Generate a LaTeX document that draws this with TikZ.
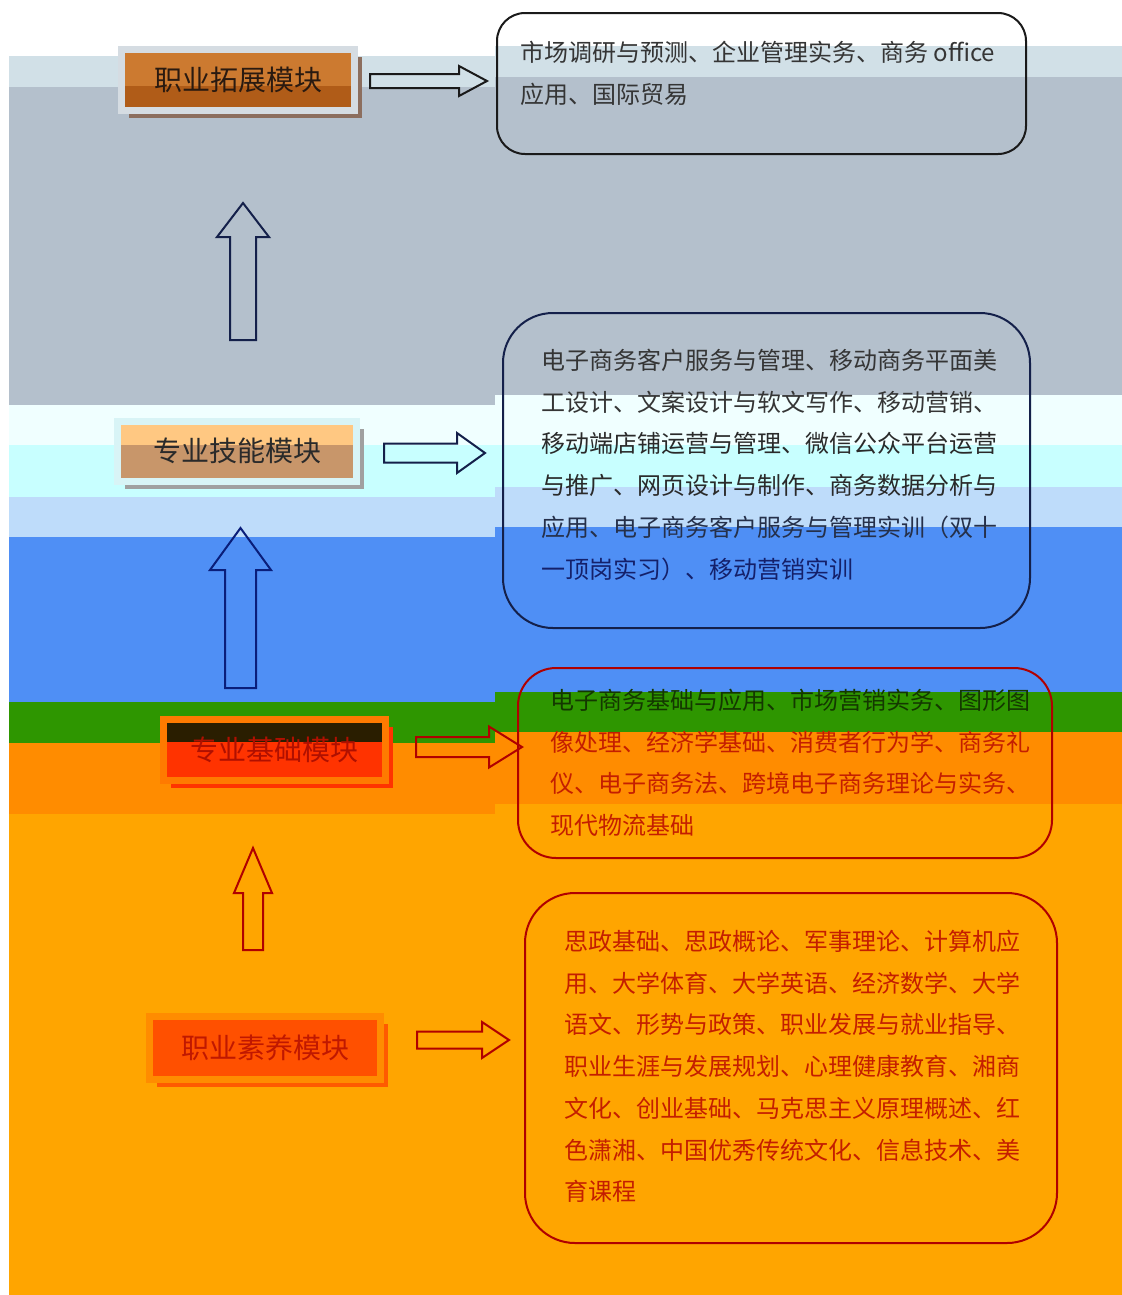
\documentclass[tikz,border=0pt]{standalone}
\usepackage{fontspec}
\newfontfamily\cjk{Noto Sans CJK SC}
\usetikzlibrary{shadows}
\definecolor{bLight}{HTML}{D1E0E7}
\definecolor{bGrey}{HTML}{B4C0CC}
\definecolor{bAzure}{HTML}{F0FFFF}
\definecolor{bCyan}{HTML}{C8FFFF}
\definecolor{bLBlue}{HTML}{BEDCFA}
\definecolor{bBlue}{HTML}{4F8FF5}
\definecolor{bGreen}{HTML}{2E9600}
\definecolor{bDOrange}{HTML}{FF8C00}
\definecolor{bOrange}{HTML}{FFA500}
\definecolor{rimA}{HTML}{D5DCE2}
\definecolor{fillAa}{HTML}{CC7A30}
\definecolor{fillAb}{HTML}{B05C18}
\definecolor{shadA}{HTML}{8C6E5E}
\definecolor{txtA}{HTML}{2A1A10}
\definecolor{rimB}{HTML}{D8F4F6}
\definecolor{fillBa}{HTML}{FFC882}
\definecolor{fillBb}{HTML}{C8966A}
\definecolor{shadB}{HTML}{A0A0A0}
\definecolor{txtB}{HTML}{2A2A2A}
\definecolor{rimC}{HTML}{FF7A00}
\definecolor{fillCa}{HTML}{2A1E00}
\definecolor{fillCb}{HTML}{FF3300}
\definecolor{shadC}{HTML}{FF3300}
\definecolor{txtC}{HTML}{B01000}
\definecolor{rimD}{HTML}{FF8C00}
\definecolor{fillD}{HTML}{FF5000}
\definecolor{shadD}{HTML}{FF5A00}
\definecolor{txtD}{HTML}{C01800}
\definecolor{inkGrey}{HTML}{353535}
\definecolor{inkDark}{HTML}{2A2A2A}
\definecolor{inkSlate}{HTML}{25304A}
\definecolor{inkNavy}{HTML}{14206A}
\definecolor{inkGreen}{HTML}{143800}
\definecolor{inkRed}{HTML}{C41E00}
\definecolor{lineBlack}{HTML}{1A1A1A}
\definecolor{lineNavy}{HTML}{14204A}
\definecolor{lineBlue}{HTML}{0A1E7A}
\definecolor{lineRed}{HTML}{B00000}
\newcommand\myUpArrow[7]{%
  \draw[blockarrow,draw=#1] ({#2},{#3}) -- ({#2+#6},{#3+#7}) -- ({#2+#5},{#3+#7})
    -- ({#2+#5},{#4}) -- ({#2-#5},{#4}) -- ({#2-#5},{#3+#7}) -- ({#2-#6},{#3+#7}) -- cycle;}
\newcommand\myRightArrow[7]{%
  \draw[blockarrow,draw=#1] ({#2},{#4-#5}) -- ({#3-#7},{#4-#5}) -- ({#3-#7},{#4-#6})
    -- ({#3},{#4}) -- ({#3-#7},{#4+#6}) -- ({#3-#7},{#4+#5}) -- ({#2},{#4+#5}) -- cycle;}
\begin{document}
\begin{tikzpicture}[x=1bp,y=-1bp,
  modbox/.style={rectangle, line width=7bp, outer sep=0pt, inner sep=0pt,
    font=\cjk\fontsize{28bp}{34bp}\selectfont},
  lowerfill/.style 2 args={path picture={\fill[#1]
    ([yshift=#2]path picture bounding box.south west) rectangle
    ([yshift=-10bp]path picture bounding box.south east);}},
  rbox/.style={rectangle, line width=2bp, outer sep=0pt, inner sep=0pt},
  rtext/.style={anchor=north west, align=left, inner sep=0pt,
    font=\cjk\fontsize{24bp}{41.7bp}\selectfont},
  blockarrow/.style={line width=2bp, line join=miter}]
\useasboundingbox (0,0) rectangle (1122,1295);
\fill[white] (0,0) rectangle (1122,1295);
% background bands (left part and right part, offset)
\foreach \c/\a/\b in {bLight/56/87,bGrey/87/405,bAzure/405/445,bCyan/445/497,bLBlue/497/537,bBlue/537/702,bGreen/702/743,bDOrange/743/814,bOrange/814/1295}
  \fill[fill=\c] (9,\a) rectangle (495,\b);
\foreach \c/\a/\b in {bLight/46/77,bGrey/77/395,bAzure/395/445,bCyan/445/487,bLBlue/487/527,bBlue/527/692,bGreen/692/732,bDOrange/732/804,bOrange/804/1295}
  \fill[fill=\c] (495,\a) rectangle (1122,\b);

% left module boxes
\node[modbox, draw=rimA, fill=fillAa, text=txtA, minimum width=232bp, minimum height=61bp,
  drop shadow={shadow xshift=7.5bp, shadow yshift=-7.5bp, fill=shadA, opacity=1},
  lowerfill={fillAb}{24.5bp}] (m1) at (238,80) {职业拓展模块};
\node[modbox, draw=rimB, fill=fillBa, text=txtB, minimum width=239bp, minimum height=60bp,
  drop shadow={shadow xshift=7.5bp, shadow yshift=-7.5bp, fill=shadB, opacity=1},
  lowerfill={fillBb}{36bp}] (m2) at (237,451) {专业技能模块};
\node[modbox, draw=rimC, fill=fillCa, text=txtC, minimum width=222bp, minimum height=61bp,
  drop shadow={shadow xshift=7.5bp, shadow yshift=-7.5bp, fill=shadC, opacity=1},
  lowerfill={fillCb}{38.5bp}] (m3) at (274,750) {专业基础模块};
\node[modbox, draw=rimD, fill=fillD, text=txtD, minimum width=231bp, minimum height=63bp,
  drop shadow={shadow xshift=7.5bp, shadow yshift=-7.5bp, fill=shadD, opacity=1}] (m4) at (265,1048) {职业素养模块};

% right content boxes
\node[rbox, draw=lineBlack, rounded corners=28bp, minimum width=529bp, minimum height=141bp] (c1) at (761.5,83.5) {};
\node[rbox, draw=lineNavy, rounded corners=50bp, minimum width=527bp, minimum height=315bp] (c2) at (766.5,470.5) {};
\node[rbox, draw=lineRed, rounded corners=38bp, minimum width=534bp, minimum height=190bp] (c3) at (785,763) {};
\node[rbox, draw=lineRed, rounded corners=50bp, minimum width=532bp, minimum height=350bp] (c4) at (791,1068) {};

\node[rtext, text=inkGrey] (t1) at (520,41) {市场调研与预测、企业管理实务、商务 office\\应用、国际贸易};
\node[rtext] (t2) at (541,349) {%
\textcolor{inkGrey}{电子商务客户服务与管理、移动商务平面美}\\
\textcolor{inkGrey}{工设计、文案设计与软文写作、移动营销、}\\
\textcolor{inkDark}{移动端店铺运营与管理、微信公众平台运营}\\
\textcolor{inkDark}{与推广、网页设计与制作、商务数据分析与}\\
\textcolor{inkSlate}{应用、电子商务客户服务与管理实训（双十}\\
\textcolor{inkNavy}{一顶岗实习）、移动营销实训}};
\node[rtext] (t3) at (550,689) {%
\textcolor{inkGreen}{电子商务基础与应用、市场营销实务、图形图}\\
\textcolor{inkRed}{像处理、经济学基础、消费者行为学、商务礼}\\
\textcolor{inkRed}{仪、电子商务法、跨境电子商务理论与实务、}\\
\textcolor{inkRed}{现代物流基础}};
\node[rtext, text=inkRed] (t4) at (564,930) {%
思政基础、思政概论、军事理论、计算机应\\
用、大学体育、大学英语、经济数学、大学\\
语文、形势与政策、职业发展与就业指导、\\
职业生涯与发展规划、心理健康教育、湘商\\
文化、创业基础、马克思主义原理概述、红\\
色潇湘、中国优秀传统文化、信息技术、美\\
育课程};

% block arrows: up
\myUpArrow{lineNavy}{243}{203}{340}{13}{26}{34}
\myUpArrow{lineBlue}{240.5}{528}{688}{15.5}{30.5}{42}
\myUpArrow{lineRed}{253}{848}{950}{10}{19}{45}
% block arrows: right
\myRightArrow{lineBlack}{370}{487}{81}{7}{15}{28}
\myRightArrow{lineNavy}{384}{485}{453}{9.5}{20}{28}
\myRightArrow{lineRed}{416}{522}{747}{10}{20.5}{33}
\myRightArrow{lineRed}{417}{509}{1040}{8.5}{18}{27}
\end{tikzpicture}
\end{document}
